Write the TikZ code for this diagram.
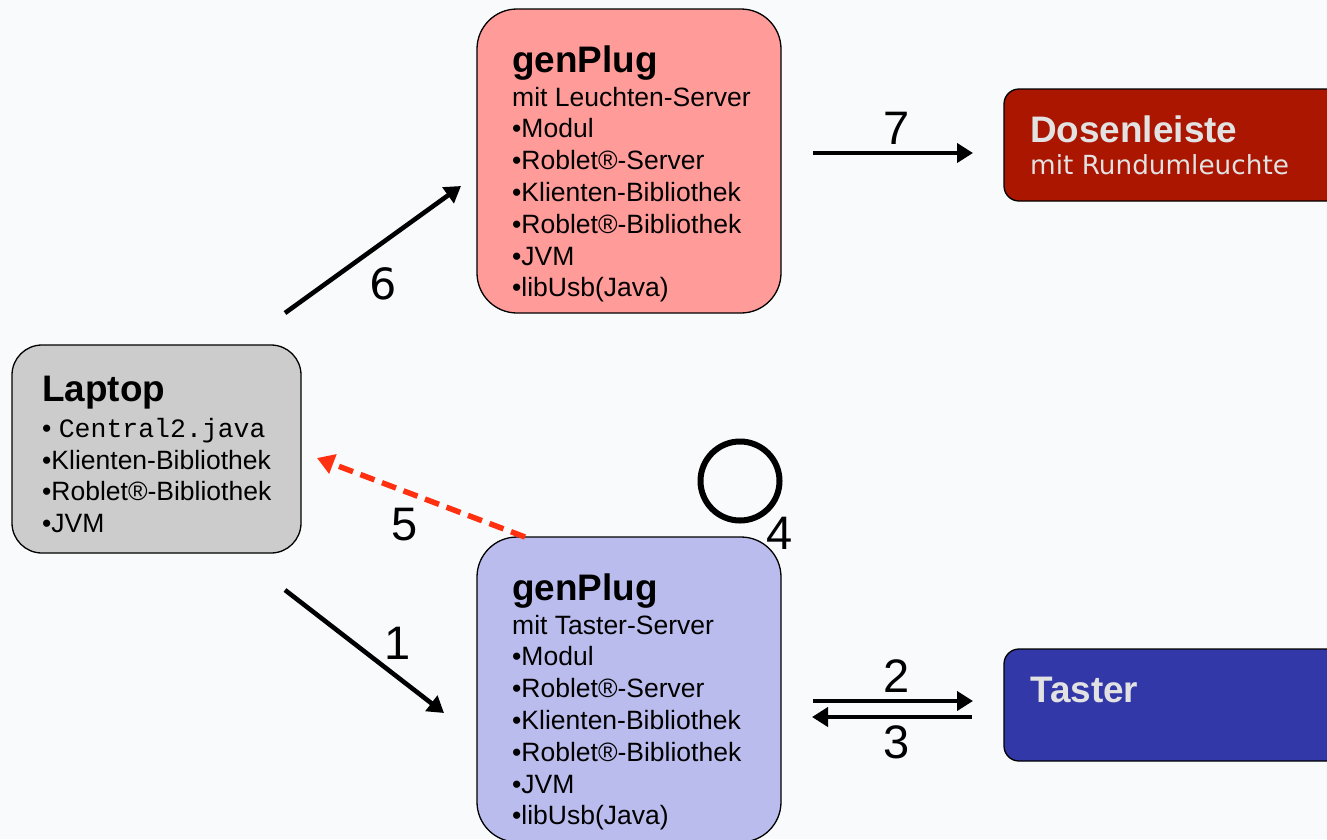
\documentclass[tikz,border=0pt]{standalone}
\usepackage{fontspec}
\setmainfont{Liberation Sans}
\setmonofont{Liberation Mono}
\newfontfamily\dejavu{DejaVu Sans}
\usetikzlibrary{arrows.meta}
\definecolor{bgc}{RGB}{249,250,252}
\definecolor{pinkc}{RGB}{255,155,152}
\definecolor{lavc}{RGB}{187,188,238}
\definecolor{greyc}{RGB}{204,204,204}
\definecolor{darkredc}{RGB}{170,22,0}
\definecolor{bluec}{RGB}{51,56,168}
\definecolor{lighttext}{RGB}{226,226,226}
\definecolor{redarrow}{RGB}{255,48,16}
\tikzset{
  box/.style={draw=black, line width=1.3pt, inner sep=0pt},
  ttl/.style={anchor=base west, inner sep=0pt, font=\fontsize{36.9}{40}\selectfont\bfseries},
  itm/.style={anchor=base west, inner sep=0pt, font=\fontsize{26.5}{30}\selectfont},
  conn/.style={line width=4.6pt, -{Triangle[length=16pt,width=19pt]}},
  num/.style={inner sep=0pt, font=\fontsize{47}{50}\selectfont},
}
\begin{document}
\begin{tikzpicture}[x=1pt,y=-1pt]
\fill[bgc] (0,0) rectangle (1327,839);
\useasboundingbox (0,0) rectangle (1327,839);
\begin{scope}
\clip (0,0) rectangle (1327,839);
% boxes
\draw[box, fill=pinkc, rounded corners=40pt] (477,9) rectangle (781,313);
\node[inner sep=0pt] (gtop) at (629,161) {};
\draw[box, fill=lavc, rounded corners=40pt] (477,537) rectangle (781,842);
\node[inner sep=0pt] (gbot) at (629,690) {};
\draw[box, fill=greyc, rounded corners=30pt] (12,345) rectangle (301,553);
\node[inner sep=0pt] (lap) at (156,449) {};
\draw[box, fill=darkredc, rounded corners=15pt] (1004,89) rectangle (1360,201);
\node[inner sep=0pt] (dose) at (1165,145) {};
\draw[box, fill=bluec, rounded corners=15pt] (1004,649) rectangle (1360,761);
\node[inner sep=0pt] (tast) at (1165,705) {};
\end{scope}
% top genPlug text
\node[ttl] (gtt) at (512,72) {genPlug};
\foreach \t [count=\i] in {mit Leuchten-Server,•Modul,•Roblet®-Server,•Klienten-Bibliothek,•Roblet®-Bibliothek,•JVM,•libUsb(Java)}
  \node[itm] (gti\i) at (512,{74.3+31.8*\i}) {\t};
% bottom genPlug text
\node[ttl] (gbt) at (512,600) {genPlug};
\foreach \t [count=\i] in {mit Taster-Server,•Modul,•Roblet®-Server,•Klienten-Bibliothek,•Roblet®-Bibliothek,•JVM,•libUsb(Java)}
  \node[itm] (gbi\i) at (512,{602.3+31.8*\i}) {\t};
% laptop text
\node[ttl] (lt) at (42,401) {Laptop};
\node[itm] (li1) at (42,437) {• \texttt{Central2.java}};
\node[itm] (li2) at (42,469) {•Klienten-Bibliothek};
\node[itm] (li3) at (42,500.5) {•Roblet®-Bibliothek};
\node[itm] (li4) at (42,532) {•JVM};
% right boxes text
\node[ttl, text=lighttext] (dt) at (1030,142) {Dosenleiste};
\node[itm, text=lighttext, font=\fontsize{26.3}{29}\selectfont\dejavu] (ds) at (1030,174) {mit Rundumleuchte};
\node[ttl, text=lighttext] (tt) at (1030,702) {Taster};
% connector end points
\coordinate (a6s) at (285,313); \coordinate (a6e) at (461,186);
\coordinate (a7s) at (813,153); \coordinate (a7e) at (973,153);
\coordinate (a1s) at (285,590); \coordinate (a1e) at (444,713);
\coordinate (a2s) at (813,701); \coordinate (a2e) at (973,701);
\coordinate (a3s) at (972,717); \coordinate (a3e) at (812,717);
\coordinate (a5s) at (525,537); \coordinate (a5e) at (317,458);
\draw[conn] (a6s) -- (a6e);
\draw[conn] (a7s) -- (a7e);
\draw[conn] (a1s) -- (a1e);
\draw[conn] (a2s) -- (a2e);
\draw[conn] (a3s) -- (a3e);
\draw[line width=5.5pt, redarrow, dash pattern=on 15pt off 8pt, -{Triangle[length=17pt,width=20pt]}] (a5s) -- (a5e);
% circle 4
\draw[line width=6pt] (740,481) circle (39.5);
\node[circle, inner sep=0pt, minimum size=85pt] (c4) at (740,481) {};
% labels
\node[num, font=\fontsize{43}{46}\selectfont\dejavu] (n6) at (383,284) {6};
\node[num] (n7) at (897,128) {7};
\node[num] (n1) at (398,643) {1};
\node[num] (n2) at (897,676) {2};
\node[num] (n3) at (897,742) {3};
\node[num] (n5) at (405,525) {5};
\node[num] (n4) at (780,533) {4};
\end{tikzpicture}
\end{document}
